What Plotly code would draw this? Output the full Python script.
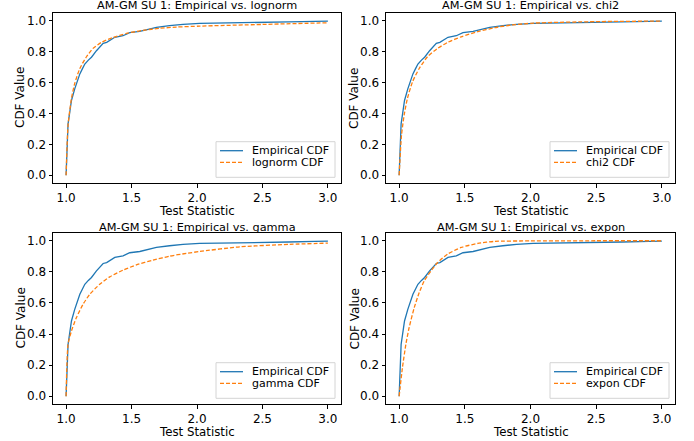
import plotly.graph_objects as go

# Empirical CDF (same sample in every panel)
emp_x = [1.0, 1.015, 1.03, 1.041, 1.066, 1.085, 1.105, 1.125, 1.143, 1.17, 1.194, 1.232, 1.26,
         1.283, 1.31, 1.334, 1.372, 1.435, 1.486, 1.563, 1.639, 1.69, 1.79, 1.893, 2.02, 2.3,
         2.5, 2.7, 2.9, 3.0]
emp_y = [0.0, 0.333, 0.42, 0.484, 0.559, 0.61, 0.656, 0.69, 0.72, 0.745, 0.764, 0.806, 0.835,
         0.854, 0.86, 0.871, 0.893, 0.903, 0.923, 0.931, 0.944, 0.957, 0.968, 0.977, 0.983, 0.985,
         0.988, 0.992, 0.996, 0.998]

# Fitted CDFs
lognorm_x = [1.0, 1.015, 1.041, 1.066, 1.105, 1.156, 1.206, 1.27, 1.359, 1.461, 1.588, 1.715,
             1.843, 2.02, 2.5, 3.0]
lognorm_y = [0.0, 0.324, 0.497, 0.594, 0.691, 0.767, 0.821, 0.86, 0.892, 0.918, 0.938, 0.951,
             0.959, 0.965, 0.976, 0.987]

chi2_x = [1.0, 1.018, 1.038, 1.063, 1.102, 1.153, 1.216, 1.293, 1.369, 1.472, 1.599, 1.726,
          1.854, 2.032, 2.5, 3.0]
chi2_y = [0.0, 0.259, 0.389, 0.497, 0.605, 0.691, 0.767, 0.821, 0.86, 0.896, 0.929, 0.955,
          0.972, 0.985, 0.994, 0.998]

gamma_x = [1.0, 1.015, 1.041, 1.079, 1.13, 1.181, 1.257, 1.334, 1.435, 1.537, 1.664, 1.79,
           1.919, 2.02, 2.326, 2.708, 3.0]
gamma_y = [0.0, 0.333, 0.42, 0.506, 0.592, 0.656, 0.72, 0.768, 0.811, 0.845, 0.875, 0.901,
           0.919, 0.931, 0.961, 0.977, 0.985]

expon_x = [1.0, 1.025, 1.051, 1.076, 1.115, 1.153, 1.191, 1.242, 1.293, 1.369, 1.472, 1.599,
           1.726, 2.0, 2.5, 3.0]
expon_y = [0.0, 0.183, 0.333, 0.441, 0.57, 0.667, 0.742, 0.806, 0.86, 0.914, 0.957, 0.983,
           0.996, 0.999, 1.0, 1.0]

dists = ["lognorm", "chi2", "gamma", "expon"]
fits = [(lognorm_x, lognorm_y), (chi2_x, chi2_y), (gamma_x, gamma_y), (expon_x, expon_y)]

x_ticks = [1.0, 1.5, 2.0, 2.5, 3.0]
y_ticks = [0.0, 0.2, 0.4, 0.6, 0.8, 1.0]

W, H = 694, 441


def px_x(p):
    return p / W


def px_y(p):
    return 1 - p / H


x_domains = [[px_x(53), px_x(341)], [px_x(386), px_x(675)]]
y_domains = [[px_y(183), px_y(13)], [px_y(404), px_y(233)]]
title_py = [5.5, 227]
xtitle_py = [210.5, 431.5]
ytitle_px = [20, 354]
col_dx = [0, 334]
row_dy = [0, 221]

BLUE = "#1f77b4"
ORANGE = "#ff7f0e"
FONT = "DejaVu Sans"

fig = go.Figure()
layout = dict(
    width=W, height=H, margin=dict(l=0, r=0, t=0, b=0),
    paper_bgcolor="white", plot_bgcolor="white",
    font=dict(family=FONT, size=12, color="black"),
    showlegend=False, annotations=[], shapes=[],
)

for i, (name, (fx, fy)) in enumerate(zip(dists, fits)):
    r, c = divmod(i, 2)
    n = i + 1
    xa = "x" if n == 1 else f"x{n}"
    ya = "y" if n == 1 else f"y{n}"
    fig.add_trace(go.Scatter(x=emp_x, y=emp_y, mode="lines", name="Empirical CDF",
                             line=dict(color=BLUE, width=1.3, shape="linear"),
                             xaxis=xa, yaxis=ya))
    fig.add_trace(go.Scatter(x=fx, y=fy, mode="lines", name=f"{name} CDF",
                             line=dict(color=ORANGE, width=1.3, dash="4px,2px", shape="spline", smoothing=0.6),
                             xaxis=xa, yaxis=ya))
    axcommon = dict(showline=True, linecolor="black", linewidth=1, mirror=True,
                    ticks="outside", ticklen=3.5, tickcolor="black", showgrid=False,
                    zeroline=False, tickfont=dict(size=12, family=FONT))
    layout[f"xaxis{'' if n == 1 else n}"] = dict(
        domain=x_domains[c], anchor=ya, range=[0.9, 3.1], tickvals=x_ticks,
        ticktext=[f"{v:.1f}" for v in x_ticks], **axcommon)
    layout[f"yaxis{'' if n == 1 else n}"] = dict(
        domain=y_domains[r], anchor=xa, range=[-0.05, 1.05], tickvals=y_ticks,
        ticktext=[f"{v:.1f}" for v in y_ticks], **axcommon)

    xmid = sum(x_domains[c]) / 2
    layout["annotations"] += [
        dict(text=f"AM-GM SU 1: Empirical vs. {name}", xref="paper", yref="paper",
             x=xmid, y=px_y(title_py[r]), xanchor="center", yanchor="middle",
             showarrow=False, borderpad=0, font=dict(size=11.3, family=FONT)),
        dict(text="Test Statistic", xref="paper", yref="paper", x=xmid, y=px_y(xtitle_py[r]),
             xanchor="center", yanchor="middle", showarrow=False, borderpad=0,
             font=dict(size=11.8, family=FONT)),
        dict(text="CDF Value", xref="paper", yref="paper", x=px_x(ytitle_px[c]),
             y=sum(y_domains[r]) / 2, xanchor="center", yanchor="middle", textangle=-90,
             showarrow=False, borderpad=0, font=dict(size=12, family=FONT)),
    ]

    # legend box (matplotlib-style, compact)
    dx, dy = col_dx[c], row_dy[r]
    layout["shapes"].append(dict(
        type="rect", xref="paper", yref="paper",
        x0=px_x(216 + dx), x1=px_x(335 + dx), y0=px_y(177.3 + dy), y1=px_y(141.7 + dy),
        line=dict(color="#d4d4d4", width=1), fillcolor="rgba(255,255,255,0.8)", layer="above"))
    for k, (label, color, dash) in enumerate([("Empirical CDF", BLUE, "solid"),
                                              (f"{name} CDF", ORANGE, "4px,2px")]):
        ly = 150.7 + dy + k * 11.6
        layout["shapes"].append(dict(
            type="line", xref="paper", yref="paper",
            x0=px_x(220 + dx), x1=px_x(243 + dx), y0=px_y(ly), y1=px_y(ly),
            line=dict(color=color, width=1.3, dash=dash), layer="above"))
        layout["annotations"].append(dict(
            text=label, xref="paper", yref="paper", x=px_x(251 + dx), y=px_y(ly),
            xanchor="left", yanchor="middle", showarrow=False, borderpad=0,
            font=dict(size=11, family=FONT)))

fig.update_layout(**layout)
fig.write_html("out.html", config={"displayModeBar": False},
               post_script="document.body.style.margin='0';")
